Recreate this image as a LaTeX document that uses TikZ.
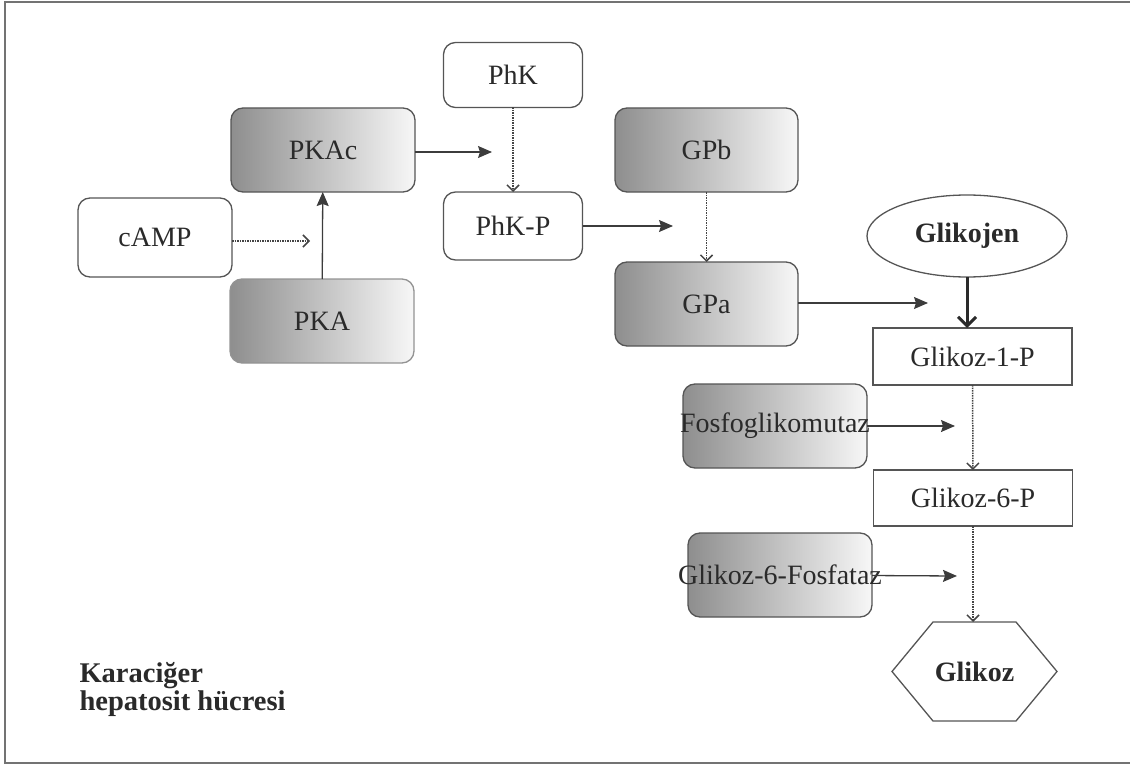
\documentclass[tikz,border=0pt]{standalone}
\usepackage{fontspec}
\setmainfont{Liberation Serif}
\usetikzlibrary{arrows.meta, shapes.geometric}
\definecolor{cizgi}{HTML}{555555}
\definecolor{koyu}{HTML}{8E8E8E}
\definecolor{acik}{HTML}{F7F7F7}
\definecolor{yazi}{HTML}{2A2A2A}
\newcommand{\yazitipi}{\fontsize{28}{33}\selectfont}
\tikzset{
  temel/.style={rectangle, draw=cizgi, line width=1.3pt, text=yazi,
    font=\yazitipi, inner sep=0pt, outer sep=0pt},
  enzim/.style={temel, rounded corners=12pt, left color=koyu, right color=acik,
    minimum width=184pt, minimum height=84pt},
  kutu/.style={temel, rounded corners=12pt, fill=white},
  ara/.style={temel, minimum width=199pt, minimum height=57pt},
  ok/.style={-{Stealth[length=14pt, width=12pt, inset=2pt]}, line width=1.3pt, color=cizgi!70!black},
  noktali/.style={-{Straight Barb[length=6pt, width=12pt]}, densely dotted, line width=1.5pt, color=cizgi!80!black},
  kalin/.style={-{Straight Barb[length=9pt, width=18pt]}, line width=3pt, color=yazi},
}

\begin{document}
\begin{tikzpicture}[x=1pt, y=-1pt]
  \useasboundingbox (0,0) rectangle (1130,765);
  \draw[gray!90!black, line width=2pt] (5,2) rectangle (1140,763);

  % sinyal yolu
  \node[kutu, minimum width=154pt, minimum height=79pt] (camp) at (155,237.5) {cAMP};
  \node[enzim] (pkac) at (323,150) {PKAc};
  \node[enzim, draw=gray!85] (pka) at (322,321) {PKA};
  \node[kutu, minimum width=139pt, minimum height=65pt] (phk) at (513,75) {PhK};
  \node[kutu, minimum width=139pt, minimum height=68pt] (phkp) at (513,226) {PhK-P};
  \node[enzim, minimum width=183pt] (gpb) at (706.5,150) {GPb};
  \node[enzim, minimum width=183pt] (gpa) at (706.5,304) {GPa};

  % glikojen yikimi
  \node[ellipse, draw=cizgi, line width=1.3pt, text=yazi, font=\yazitipi\bfseries,
    minimum width=200pt, minimum height=82pt, inner sep=0pt, outer sep=0pt] (glikojen) at (967,236) {Glikojen};
  \node[ara] (g1p) at (972.5,356.5) {Glikoz-1-P};
  \node[enzim] (fgm) at (775,426) {\makebox[0pt]{Fosfoglikomutaz}};
  \node[ara, minimum height=56pt] (g6p) at (973,498) {Glikoz-6-P};
  \node[enzim] (g6faz) at (780,575) {\makebox[0pt]{Glikoz-6-Fosfataz}};
  \node[rectangle, minimum width=165pt, minimum height=99pt, inner sep=0pt, outer sep=0pt,
    text=yazi, font=\yazitipi\bfseries] (glikoz) at (974.5,671.5) {Glikoz};
  \draw[cizgi, line width=1.3pt] (glikoz.west) -- ([xshift=41pt]glikoz.north west)
    -- ([xshift=-41pt]glikoz.north east) -- (glikoz.east)
    -- ([xshift=-41pt]glikoz.south east) -- ([xshift=41pt]glikoz.south west) -- cycle;

  \node[anchor=base west, align=left, text=yazi,
    font=\fontsize{28.5}{28}\selectfont\bfseries] (hucre) at (76,710) {Karaciğer\\hepatosit hücresi};

  % oklar
  \coordinate (u1) at (310,241);
  \coordinate (u2) at (492,152);
  \coordinate (u3) at (673,226);
  \coordinate (u4) at (928,303);
  \coordinate (u5) at (955,426);
  \coordinate (u6) at (957,576);

  \draw[noktali] (camp.east |- u1) -- (u1);
  \draw[ok] (pka) -- (pkac);
  \draw[ok] (pkac.east |- u2) -- (u2);
  \draw[noktali] (phk) -- (phkp);
  \draw[ok] (phkp) -- (u3);
  \draw[noktali] (gpb) -- (gpa);
  \draw[ok] (gpa.east |- u4) -- (u4);
  \draw[kalin] (glikojen.south) -- (glikojen.south |- g1p.north);
  \draw[noktali] (g1p) -- (g6p);
  \draw[ok] (fgm) -- (u5);
  \draw[noktali] (g6p.south) -- (g6p.south |- glikoz.north);
  \draw[ok] (g6faz) -- (u6);
\end{tikzpicture}
\end{document}
